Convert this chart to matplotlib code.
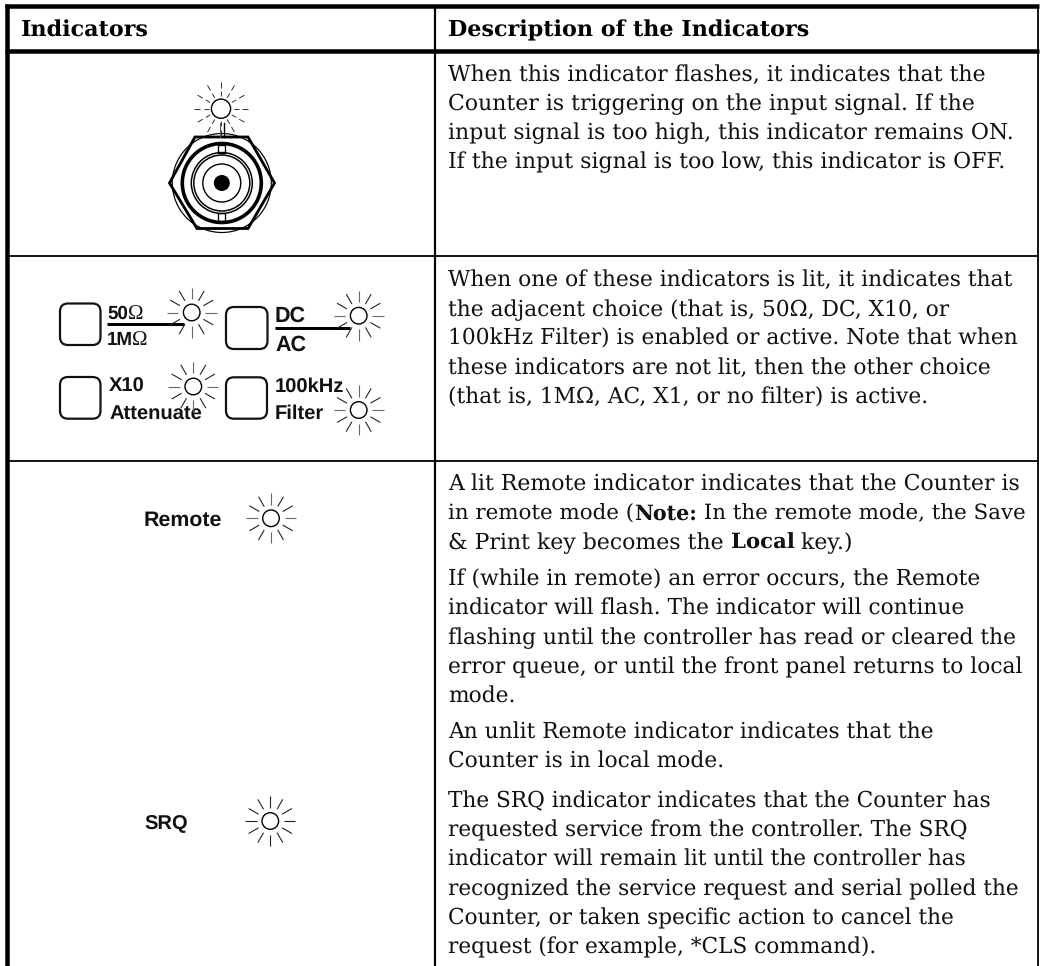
import numpy as np
import matplotlib
matplotlib.use("Agg")
import matplotlib.pyplot as plt
from matplotlib.patches import Circle, FancyBboxPatch, Polygon

plt.rcParams["text.hinting"] = "no_hinting"

headers = ["Indicators", "Description of the Indicators"]
row1_lines = ["When this indicator flashes, it indicates that the",
              "Counter is triggering on the input signal. If the",
              "input signal is too high, this indicator remains ON.",
              "If the input signal is too low, this indicator is OFF."]
row2_lines = ["When one of these indicators is lit, it indicates that",
              "the adjacent choice (that is, 50Ω, DC, X10, or",
              "100kHz Filter) is enabled or active. Note that when",
              "these indicators are not lit, then the other choice",
              "(that is, 1MΩ, AC, X1, or no filter) is active."]
row3_p1 = [[("A lit Remote indicator indicates that the Counter is", False)],
           [("in remote mode (", False), ("Note:", True), (" In the remote mode, the Save", False)],
           [("& Print key becomes the ", False), ("Local", True), (" key.)", False)]]
row3_p2 = ["If (while in remote) an error occurs, the Remote",
           "indicator will flash. The indicator will continue",
           "flashing until the controller has read or cleared the",
           "error queue, or until the front panel returns to local",
           "mode."]
row3_p3 = ["An unlit Remote indicator indicates that the",
           "Counter is in local mode."]
row3_p4 = ["The SRQ indicator indicates that the Counter has",
           "requested service from the controller. The SRQ",
           "indicator will remain lit until the controller has",
           "recognized the service request and serial polled the",
           "Counter, or taken specific action to cancel the",
           "request (for example, *CLS command)."]

W, H = 1040, 966
fig = plt.figure(figsize=(W / 100, H / 100), dpi=100)
ax = fig.add_axes([0, 0, 1, 1])
ax.set_xlim(0, W)
ax.set_ylim(H, 0)
ax.axis("off")
px = 72 / 100
SERIF = "DejaVu Serif"
SANS = "Liberation Sans"
FS = 15.7
LH = 29.3
TX = 448


def hline(y, x0, x1, w):
    ax.plot([x0, x1], [y, y], color="black", lw=w * px, solid_capstyle="butt")


def vline(x, y0, y1, w):
    ax.plot([x, x], [y0, y1], color="black", lw=w * px, solid_capstyle="butt")


# table rules
hline(6, 5, 1039, 4.5)
hline(51, 5, 1039, 4.5)
hline(256, 7, 1039, 1.8)
hline(460.7, 7, 1039, 1.8)
vline(7.3, 4, 966, 4.5)
vline(435, 6, 966, 2.2)
vline(1038.3, 6, 966, 1.8)

# headers
ax.text(20.5, 28.5, headers[0], family=SERIF, weight="bold", fontsize=16, va="center_baseline", color="black")
ax.text(TX, 28.5, headers[1], family=SERIF, weight="bold", fontsize=16, va="center_baseline", color="black")


def width(s, weight, fs):
    r = fig.canvas.get_renderer()
    a = ax.text(0, 0, s + "|", family=SERIF, weight=weight, fontsize=fs)
    b = ax.text(0, 0, "|", family=SERIF, weight=weight, fontsize=fs)
    w = a.get_window_extent(r).width - b.get_window_extent(r).width
    a.remove()
    b.remove()
    return w


def plain(lines, y0, fs=FS, lh=LH):
    for i, s in enumerate(lines):
        ax.text(TX, y0 + i * lh, s, family=SERIF, fontsize=fs, va="center_baseline", color="#111111")


def runs(lines, y0, sizes):
    for i, parts in enumerate(lines):
        x = TX
        for s, bold in parts:
            wt = "bold" if bold else "normal"
            fs = sizes[i] - (0.5 if bold else 0)
            ax.text(x, y0 + i * LH, s, family=SERIF, weight=wt, fontsize=fs, va="center_baseline", color="#111111")
            x += width(s, wt, fs)


plain(row1_lines, 73, fs=15.85, lh=28.8)
plain(row2_lines, 278)
runs(row3_p1, 482, [15.8, 15.4, 15.8])
plain(row3_p2, 577)
plain(row3_p3, 730)
plain(row3_p4, 799, fs=15.6)


ANGLES = np.deg2rad(np.arange(0, 360, 30))


def sun(cx, cy, r=8.3, r0=13.5, r1=25, lw=1.1, ring=1.4, grey=False):
    ax.add_patch(Circle((cx, cy), r, fc="white", ec="black", lw=ring * px, zorder=4))
    for a in ANGLES:
        axis = abs(np.sin(a)) < .01 or abs(np.cos(a)) < .01
        c = "#666666" if grey and axis else "#222222"
        ax.plot([cx + r0 * np.cos(a), cx + r1 * np.cos(a)],
                [cy + r0 * np.sin(a), cy + r1 * np.sin(a)],
                color=c, lw=lw * px, zorder=4, solid_capstyle="butt")


def button(x0, y0, x1, y1):
    pad = 8
    ax.add_patch(FancyBboxPatch((x0 + pad, y0 + pad), x1 - x0 - 2 * pad, y1 - y0 - 2 * pad,
                                boxstyle=f"round,pad={pad},rounding_size={pad}",
                                fc="white", ec="#111111", lw=2.2 * px))


def label(x, y, s, fs=14.5):
    return ax.text(x, y, s, family=SANS, weight="bold", fontsize=fs, va="center_baseline", color="#111111")


# BNC connector
cx, cy = 221.8, 183
ax.add_patch(Circle((cx, cy), 49.5, fc="white", ec="black", lw=1.2 * px, zorder=2))
ax.add_patch(Polygon([(169.5, cy), (195, 137), (248, 137), (274.5, cy), (248, 228.5), (197, 228.5)],
                     closed=True, fc="none", ec="black", lw=2.8 * px, zorder=3))
ax.add_patch(Circle((cx, cy), 39.5, fc="none", ec="black", lw=3.6 * px, zorder=3))
ax.add_patch(Circle((cx, cy), 30.5, fc="none", ec="black", lw=1.5 * px, zorder=3))
ax.add_patch(Circle((cx, cy), 28, fc="none", ec="black", lw=1.5 * px, zorder=3))
ax.add_patch(Circle((cx, cy), 19, fc="none", ec="black", lw=1.4 * px, zorder=3))
ax.add_patch(Circle((cx, cy), 8, fc="black", ec="black", lw=0, zorder=3))
for ya, yb in [(145, 153), (213, 221)]:
    ax.plot([cx - 3.5, cx - 3.5, cx + 3.5, cx + 3.5, cx - 3.5], [ya, yb, yb, ya, ya],
            color="black", lw=1.3 * px, zorder=5)
ax.plot([220, 220], [123, 137], color="#555555", lw=1 * px, zorder=5)
ax.plot([224, 224], [123, 137], color="black", lw=1.4 * px, zorder=5)
for a in ANGLES:
    for r0, r1 in [(12.5, 17.5), (21, 27)]:
        c, s = np.cos(a), np.sin(a)
        ax.plot([221 + r0 * c, 221 + r1 * c], [108.7 + r0 * s, 108.7 + r1 * s],
                color="#222222", lw=0.9 * px, zorder=4, solid_capstyle="butt")
ax.add_patch(Circle((221, 108.7), 9.6, fc="white", ec="black", lw=1.4 * px, zorder=4))

# buttons
button(60, 303.5, 100.5, 345)
button(226, 307, 267.5, 349)
button(60, 377, 100.5, 418.7)
button(226, 377.3, 267, 418.7)

# labels
label(107, 312, "50", fs=13.5)
ax.text(128, 312, "Ω", family="Liberation Serif", fontsize=15, va="center_baseline", color="#111111")
hline(324.3, 107, 184, 3)
label(107, 338, "1M", fs=13.5)
ax.text(132, 338, "Ω", family="Liberation Serif", fontsize=15, va="center_baseline", color="#111111")
label(275, 314, "DC", fs=15.5)
label(275, 343, "AC", fs=15.5)
hline(328, 275, 350, 3)
label(109, 385, "X10")
label(109, 411.5, "Attenuate")
label(275, 385, "100kHz")
label(275, 411.5, "Filter")
label(144, 518, "Remote", fs=15.4)
label(144, 821.5, "SRQ")

# sunbursts
sun(191.7, 312.5, grey=True)
sun(358.7, 315.7, grey=True)
sun(193.3, 386.5, grey=True)
sun(358.7, 410, grey=True)
sun(271, 518.3, grey=True)
sun(270.3, 821)

fig.savefig("out.png", dpi=100, facecolor="white")
